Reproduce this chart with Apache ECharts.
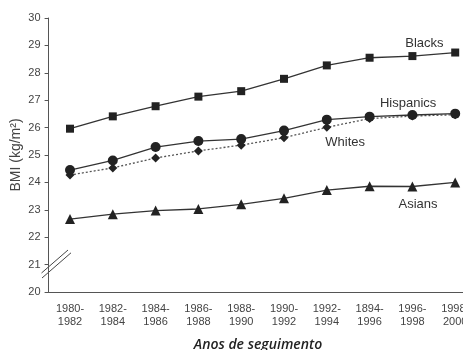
<!DOCTYPE html>
<html><head><meta charset="utf-8">
<script src="https://cdn.jsdelivr.net/npm/echarts@6/dist/echarts.min.js"></script>
<style>html,body{margin:0;padding:0;background:#fff}#c{width:463px;height:350px}</style>
</head><body><div id="c"></div>
<script>
const categories = ['1980-\n1982','1982-\n1984','1984-\n1986','1986-\n1988','1988-\n1990','1990-\n1992','1992-\n1994','1894-\n1996','1996-\n1998','1998-\n2000'];
const blacks    = [25.96, 26.41, 26.78, 27.13, 27.33, 27.78, 28.27, 28.55, 28.61, 28.74];
const hispanics = [24.45, 24.80, 25.29, 25.51, 25.58, 25.89, 26.29, 26.40, 26.46, 26.51];
const whites    = [24.27, 24.53, 24.89, 25.15, 25.36, 25.63, 26.01, 26.33, 26.42, 26.47];
const asians    = [22.66, 22.84, 22.97, 23.03, 23.20, 23.42, 23.72, 23.86, 23.85, 24.00];
const yTicks = {min: 20, max: 30, interval: 1};
const seriesLabels = ['Blacks', 'Hispanics', 'Whites', 'Asians'];

const chart = echarts.init(document.getElementById('c'));
function s(name, data, symbol, size, dashed){
  return {name, type:'line', data, symbol, symbolSize:size, showSymbol:true,
    lineStyle:{color: dashed ? '#555' : '#333', width: 1.3, type: dashed ? [2,2] : 'solid'},
    itemStyle:{color:'#222'}, z: dashed ? 2 : 3, animation:false};
}
chart.setOption({
  animation:false,
  grid:{left:48.6, top:18, width:428, height:274, containLabel:false, outerBoundsMode:'none'},
  title:{text:'Anos de seguimento', left:253, textAlign:'center', top:333,
    textStyle:{fontFamily:'Open Sans', fontStyle:'italic', fontWeight:600, fontSize:14, color:'#222'}},
  xAxis:{type:'category', data:categories, boundaryGap:true,
    axisLine:{lineStyle:{color:'#555', width:1}},
    axisTick:{inside:true, length:3, lineStyle:{color:'#555'}},
    axisLabel:{fontFamily:'Liberation Sans', fontSize:11, color:'#444', lineHeight:13, margin:10, interval:0}},
  yAxis:{type:'value', min:yTicks.min, max:yTicks.max, interval:yTicks.interval,
    name:'BMI (kg/m²)', nameLocation:'middle', nameGap:25, nameMoveOverlap:false,
    nameTextStyle:{fontFamily:'Liberation Sans', fontSize:14, color:'#444'},
    splitLine:{show:false},
    axisLine:{show:true, lineStyle:{color:'#555', width:1}},
    axisTick:{show:true, length:4, lineStyle:{color:'#555'}},
    axisLabel:{fontFamily:'Liberation Sans', fontSize:11, color:'#444', margin:8}},
  series:[
    s(seriesLabels[0], blacks, 'rect', 8, false),
    s(seriesLabels[1], hispanics, 'circle', 10, false),
    s(seriesLabels[2], whites, 'diamond', 9, true),
    s(seriesLabels[3], asians, 'triangle', 10, false)
  ]
});
// label anchor: fractional category position and value
const labelPos = [[8.28, 29.09], [7.9, 26.9], [6.43, 25.47], [8.13, 23.18]];
function px(ci, v){
  const i0 = Math.floor(ci), f = ci - i0;
  const p0 = chart.convertToPixel({gridIndex:0}, [i0, v]);
  const p1 = chart.convertToPixel({gridIndex:0}, [i0 + 1, v]);
  return [p0[0] + (p1[0]-p0[0])*f, p0[1]];
}
const g = seriesLabels.map((t, k) => {
  const p = px(labelPos[k][0], labelPos[k][1]);
  return {type:'text', x:p[0], y:p[1], style:{text:t, fill:'#333', font:'13px "Liberation Sans"', align:'center', verticalAlign:'middle'}};
});
// axis break marks
const y0 = chart.convertToPixel({gridIndex:0}, [0, 20])[1];
[[41.5, 19, 68, 42], [42, 14, 71, 39.2]].forEach(l => {
  g.push({type:'line', shape:{x1:l[0], y1:y0-l[1], x2:l[2], y2:y0-l[3]}, style:{stroke:'#444', lineWidth:1}});
});
chart.setOption({graphic:g});
</script></body></html>
